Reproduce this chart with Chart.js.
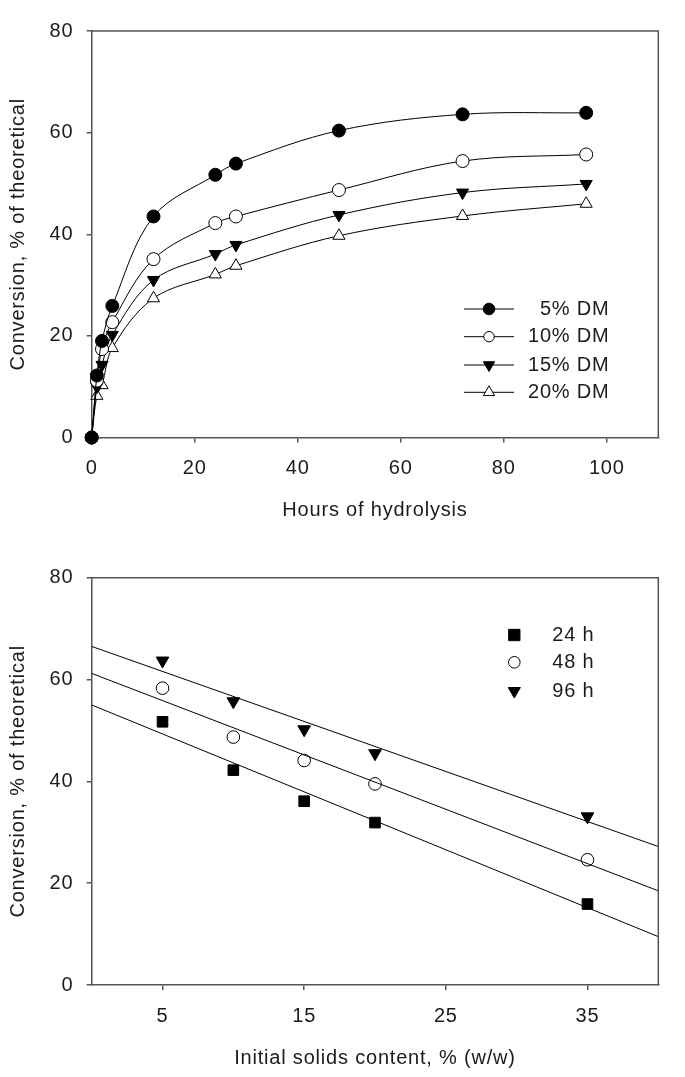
<!DOCTYPE html>
<html><head><meta charset="utf-8">
<script src="https://cdn.jsdelivr.net/npm/chart.js@4.4.1/dist/chart.umd.min.js"></script>
<style>
html,body{margin:0;padding:0;background:#fff;width:685px;height:1077px;overflow:hidden}
canvas{position:absolute;left:0}
#c1{top:0}
#c2{top:540px}
</style></head><body>
<canvas id="c1" width="685" height="530"></canvas>
<canvas id="c2" width="685" height="537"></canvas>
<script>
// ---- Top panel data ----
const hours = [0, 1, 2, 4, 12, 24, 28, 48, 72, 96];
const dm5  = [0, 12.2, 19.0, 25.9, 43.5, 51.7, 53.9, 60.4, 63.6, 63.9];
const dm10 = [0, 11.2, 17.4, 22.7, 35.1, 42.2, 43.5, 48.7, 54.4, 55.7];
const dm15 = [0, 10.0, 14.3, 20.2, 31.0, 36.1, 37.9, 43.8, 48.2, 49.9];
const dm20 = [0, 8.2, 10.3, 17.6, 27.4, 32.1, 33.8, 39.7, 43.6, 46.0];
const topNames = ['5% DM', '10% DM', '15% DM', '20% DM'];
const topXTicks = [0, 20, 40, 60, 80, 100];
const yTicks = [0, 20, 40, 60, 80];

// ---- Bottom panel data ----
const solids = [5, 10, 15, 20, 35];
const h24 = [51.7, 42.2, 36.1, 31.9, 15.9];
const h48 = [58.3, 48.7, 44.1, 39.5, 24.6];
const h96 = [63.7, 55.7, 50.2, 45.5, 33.1];
const fitX = [0, 40];
const fit24 = [55.0, 9.5];
const fit48 = [61.2, 18.5];
const fit96 = [66.5, 27.2];
const bottomNames = ['24 h', '48 h', '96 h'];
const bottomXTicks = [5, 15, 25, 35];

const AX = '#555555';
const TXT = '#1c1c1c';
const FAM = "'Liberation Sans', Arial, sans-serif";
const FONT = {family: FAM, size: 20};
const LS = '0.8px';

function pts(xs, ys) { return xs.map((x, i) => ({x: x, y: ys[i]})); }

function marker(ctx, style, x, y, r, fill) {
  ctx.save();
  ctx.beginPath();
  if (style === 'circle') {
    ctx.arc(x, y, r, 0, Math.PI * 2);
  } else if (style === 'rect') {
    const s = r * Math.SQRT1_2;
    ctx.rect(x - s, y - s, 2 * s, 2 * s);
  } else if (style === 'tri' || style === 'tridown') {
    const d = style === 'tri' ? 1 : -1;
    ctx.moveTo(x, y - d * r);
    ctx.lineTo(x + 0.866 * r, y + d * 0.5 * r);
    ctx.lineTo(x - 0.866 * r, y + d * 0.5 * r);
    ctx.closePath();
  }
  ctx.fillStyle = fill;
  ctx.fill();
  ctx.lineWidth = 1;
  ctx.strokeStyle = '#000';
  ctx.stroke();
  ctx.restore();
}

const spacing = {
  id: 'spacing',
  beforeDraw(chart) { chart.ctx.letterSpacing = LS; }
};
const frame = {
  id: 'frame',
  afterDatasetsDraw(chart) {
    const a = chart.chartArea, ctx = chart.ctx;
    ctx.save();
    ctx.strokeStyle = AX; ctx.lineWidth = 1.5;
    ctx.beginPath();
    ctx.moveTo(a.left, a.top); ctx.lineTo(a.right, a.top); ctx.lineTo(a.right, a.bottom);
    ctx.stroke();
    ctx.restore();
  }
};

function axisCommon(min, max, ticksArr, titleText, isX, size, titlePad) {
  return {
    type: 'linear', min: min, max: max,
    afterBuildTicks: s => { s.ticks = ticksArr.map(v => ({value: v})); },
    afterFit: s => { if (isX) s.height = size; else s.width = size; },
    grid: {drawOnChartArea: false, drawTicks: true, tickLength: 5, color: AX, lineWidth: 1.5},
    border: {display: true, color: AX, width: 1.5},
    ticks: {font: FONT, color: TXT, padding: isX ? 14 : 13.4, maxRotation: 0, includeBounds: false},
    title: {display: true, text: titleText, font: FONT, color: TXT, padding: titlePad}
  };
}

// ---- Top chart ----
const topStyles = [
  {ps: 'circle', rot: 0, bg: '#000', r: 6.5, lg: 'circle', lr: 5.8},
  {ps: 'circle', rot: 0, bg: '#fff', r: 6.5, lg: 'circle', lr: 5.2},
  {ps: 'triangle', rot: 180, bg: '#000', r: 7, lg: 'tridown', lr: 6.5},
  {ps: 'triangle', rot: 0, bg: '#fff', r: 7, lg: 'tri', lr: 6.5}
];
const topSeries = [dm5, dm10, dm15, dm20];

const topLegend = {
  id: 'topLegend',
  afterDraw(chart) {
    const ctx = chart.ctx;
    const rows = [309, 336.7, 365, 392.3];
    ctx.save();
    ctx.letterSpacing = LS;
    topNames.forEach((n, i) => {
      const y = rows[i];
      ctx.strokeStyle = '#000'; ctx.lineWidth = 1;
      ctx.beginPath(); ctx.moveTo(464, y); ctx.lineTo(514, y); ctx.stroke();
      marker(ctx, topStyles[i].lg, 489, y, topStyles[i].lr, topStyles[i].bg);
      ctx.fillStyle = TXT;
      ctx.font = '20px ' + FAM;
      ctx.textAlign = 'right'; ctx.textBaseline = 'middle';
      ctx.fillText(n, 609.5, y);
    });
    ctx.restore();
  }
};

new Chart(document.getElementById('c1'), {
  type: 'line',
  data: {
    datasets: topSeries.map((s, i) => ({
      label: topNames[i],
      data: pts(hours, s),
      borderColor: '#000', borderWidth: 1,
      tension: 0.35,
      pointStyle: topStyles[i].ps, rotation: topStyles[i].rot,
      pointRadius: topStyles[i].r, pointBackgroundColor: topStyles[i].bg,
      pointBorderColor: '#000', pointBorderWidth: 1,
      fill: false, clip: false
    }))
  },
  options: {
    responsive: false, animation: false, devicePixelRatio: 1,
    layout: {padding: {top: 31, right: 26.7, left: 0, bottom: 0}},
    plugins: {legend: {display: false}, tooltip: {enabled: false}},
    scales: {
      x: axisCommon(0, 110, topXTicks, 'Hours of hydrolysis', true, 92.5, {top: 0, bottom: 7.5}),
      y: axisCommon(0, 80, yTicks, 'Conversion, % of theoretical', false, 91.7, {top: 6, bottom: 0})
    }
  },
  plugins: [spacing, frame, topLegend]
});

// ---- Bottom chart ----
const botStyles = [
  {ps: 'rect', rot: 0, bg: '#000', r: 7.5, lg: 'rect', lr: 8},
  {ps: 'circle', rot: 0, bg: '#fff', r: 6.3, lg: 'circle', lr: 5.8},
  {ps: 'triangle', rot: 180, bg: '#000', r: 7.3, lg: 'tridown', lr: 7}
];
const botSeries = [h24, h48, h96];
const botFits = [fit24, fit48, fit96];

const botLegend = {
  id: 'botLegend',
  afterDraw(chart) {
    const ctx = chart.ctx;
    const rows = [95, 122.3, 151];
    ctx.save();
    ctx.letterSpacing = LS;
    bottomNames.forEach((n, i) => {
      const y = rows[i];
      marker(ctx, botStyles[i].lg, 514.3, y, botStyles[i].lr, botStyles[i].bg);
      ctx.fillStyle = TXT;
      ctx.font = '20px ' + FAM;
      ctx.textAlign = 'left'; ctx.textBaseline = 'middle';
      ctx.fillText(n, 552.3, y);
    });
    ctx.restore();
  }
};

const botDatasets = [];
botFits.forEach((f, i) => botDatasets.push({
  type: 'line', label: bottomNames[i] + ' fit', data: pts(fitX, f),
  borderColor: '#000', borderWidth: 1, pointRadius: 0, fill: false
}));
botSeries.forEach((s, i) => botDatasets.push({
  type: 'scatter', label: bottomNames[i], data: pts(solids, s),
  showLine: false, pointStyle: botStyles[i].ps, rotation: botStyles[i].rot,
  pointRadius: botStyles[i].r, pointBackgroundColor: botStyles[i].bg,
  pointBorderColor: '#000', pointBorderWidth: 1, clip: false
}));

new Chart(document.getElementById('c2'), {
  type: 'scatter',
  data: {datasets: botDatasets},
  options: {
    responsive: false, animation: false, devicePixelRatio: 1,
    layout: {padding: {top: 37.7, right: 26.7, left: 0, bottom: 0}},
    plugins: {legend: {display: false}, tooltip: {enabled: false}},
    scales: {
      x: axisCommon(0, 40, bottomXTicks, 'Initial solids content, % (w/w)', true, 92, {top: 0, bottom: 7}),
      y: axisCommon(0, 80, yTicks, 'Conversion, % of theoretical', false, 91.7, {top: 6, bottom: 0})
    }
  },
  plugins: [spacing, frame, botLegend]
});
</script>
</body></html>
